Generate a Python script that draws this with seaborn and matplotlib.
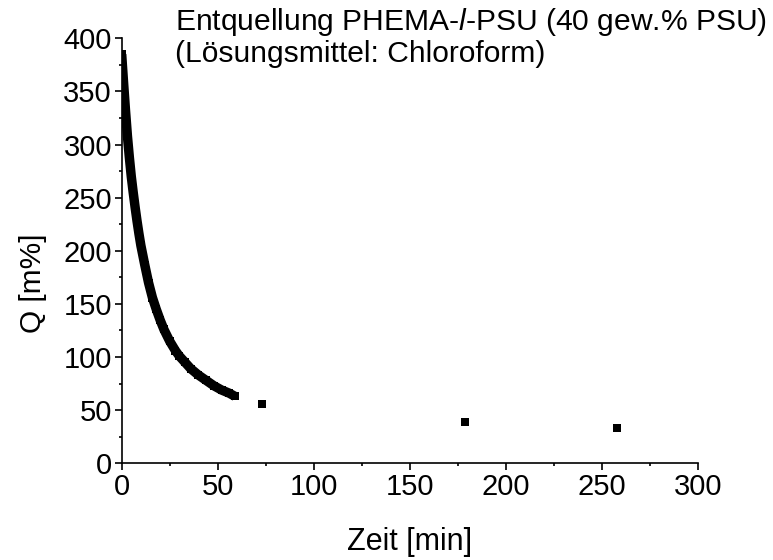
import matplotlib
matplotlib.use("Agg")
import matplotlib.pyplot as plt
import seaborn as sns
import pandas as pd
from matplotlib.ticker import MultipleLocator

# Data
t_dense = [0, 1, 2, 3, 4, 5, 6, 7, 8, 9, 10, 12, 14, 16, 18, 20, 22, 25, 28,
           30, 33, 36, 40, 44, 48, 52, 56, 59]
q_dense = [385, 358, 332, 308, 288, 270, 255, 241, 228, 216, 205, 187, 170,
           156, 145, 135, 126, 115, 106, 101, 95, 89, 83, 78, 73, 69, 66, 63]
t_late = [73, 179, 258]
q_late = [56, 39, 33]

title_line1 = "Entquellung PHEMA-$\\mathit{l}$-PSU (40 gew.% PSU)"
title_line2 = "(Lösungsmittel: Chloroform)"
x_label = "Zeit [min]"
y_label = "Q [m%]"

sns.set_style("ticks")
plt.rcParams["font.family"] = ["Liberation Sans", "DejaVu Sans"]
plt.rcParams["mathtext.fontset"] = "custom"
plt.rcParams["mathtext.rm"] = "Liberation Sans"
plt.rcParams["mathtext.it"] = "Liberation Sans:italic"
for key in ["text.color", "axes.labelcolor", "xtick.color", "ytick.color",
            "axes.edgecolor"]:
    plt.rcParams[key] = "black"

df_dense = pd.DataFrame({"t": t_dense, "q": q_dense})
df_late = pd.DataFrame({"t": t_late, "q": q_late})

W, H = 773, 560
fig = plt.figure(figsize=(W / 100, H / 100), dpi=100)
ax = fig.add_axes([0.1574, 0.1727, 0.7452, 0.7589])

sns.lineplot(data=df_dense, x="t", y="q", ax=ax, color="black", linewidth=6.8,
             marker="s", markersize=5.8, markeredgewidth=0,
             solid_capstyle="butt", solid_joinstyle="round")
sns.scatterplot(data=df_late, x="t", y="q", ax=ax, color="black", marker="s",
                s=34, linewidth=0)

ax.set_xlim(0, 300)
ax.set_ylim(0, 400)
ax.xaxis.set_major_locator(MultipleLocator(50))
ax.xaxis.set_minor_locator(MultipleLocator(25))
ax.yaxis.set_major_locator(MultipleLocator(50))
ax.yaxis.set_minor_locator(MultipleLocator(25))

for side in ["top", "right"]:
    ax.spines[side].set_visible(False)
for side in ["left", "bottom"]:
    ax.spines[side].set_linewidth(1.2)

ax.tick_params(axis="both", which="major", direction="out", length=5,
               width=1.2, labelsize=21, pad=2)
ax.tick_params(axis="both", which="minor", direction="out", length=2.5,
               width=1.2)

ax.set_xlabel(x_label, fontsize=22)
ax.set_ylabel(y_label, fontsize=21.5)
ax.xaxis.set_label_coords(0.5, (463.3 - 527) / 425)
ax.yaxis.set_label_coords((47 - 121.7) / 576, (463.3 - 283) / 425)

fig.text(175 / W, 1 - 30 / H, title_line1, fontsize=21.6, ha="left",
         va="baseline")
fig.text(175 / W, 1 - 62 / H, title_line2, fontsize=21.6, ha="left",
         va="baseline")

fig.savefig("out.png", dpi=100)
